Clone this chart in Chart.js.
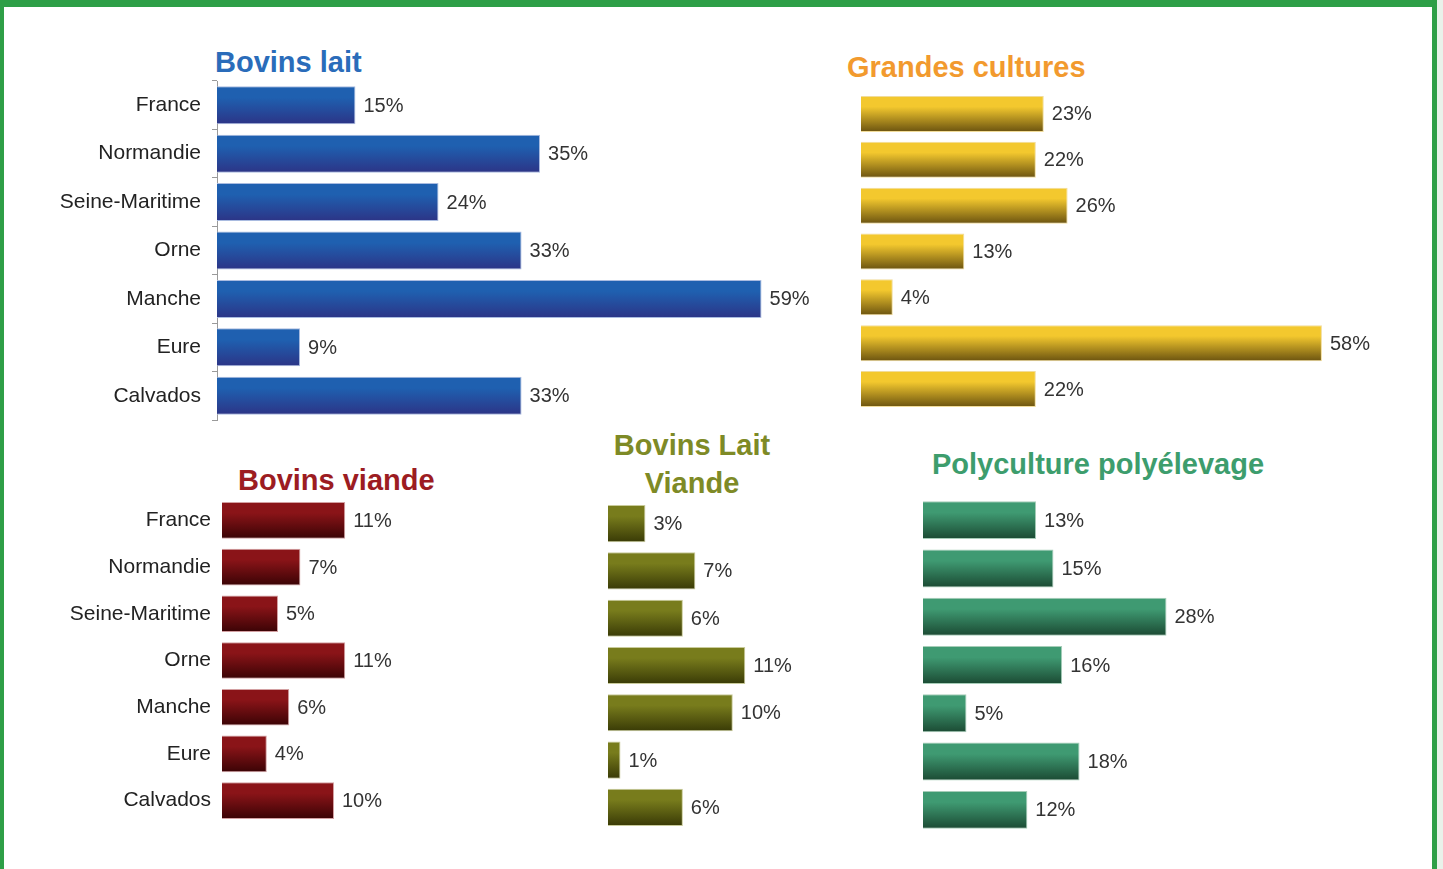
<!DOCTYPE html>
<html><head><meta charset="utf-8">
<script src="https://cdn.jsdelivr.net/npm/chart.js@4.4.1/dist/chart.umd.min.js"></script>
<style>
html,body{margin:0;padding:0;}
body{width:1443px;height:869px;background:#e9f2ea;position:relative;overflow:hidden;font-family:"Liberation Sans",Arial,Helvetica,sans-serif;}
#frame{position:absolute;left:0;top:0;width:1428px;height:862px;background:#fff;border-top:7px solid #2e9f47;border-left:4px solid #2e9f47;border-right:5px solid #2e9f47;}
canvas{position:absolute;}
.title{position:absolute;font-weight:bold;font-size:29px;line-height:29px;white-space:nowrap;}
</style></head>
<body>
<div id="frame"></div>
<div class="title" style="left:215px;top:48px;color:#2a6cba;">Bovins lait</div>
<div class="title" style="left:847px;top:53px;color:#f29a2e;">Grandes cultures</div>
<div class="title" style="left:238px;top:466px;color:#9c1c22;">Bovins viande</div>
<div class="title" style="left:592px;width:200px;top:426px;line-height:38px;text-align:center;white-space:normal;color:#7e8a26;">Bovins Lait<br>Viande</div>
<div class="title" style="left:932px;top:450px;color:#3d9d6d;">Polyculture polyélevage</div>

<canvas id="c1" width="840" height="383" style="left:0;top:59px;"></canvas>
<canvas id="c2" width="569" height="321" style="left:861px;top:91px;"></canvas>
<canvas id="c3" width="600" height="371" style="left:0;top:475px;"></canvas>
<canvas id="c4" width="292" height="331" style="left:608px;top:500px;"></canvas>
<canvas id="c5" width="507" height="338" style="left:923px;top:496px;"></canvas>

<script>
const regions = ['France','Normandie','Seine-Maritime','Orne','Manche','Eure','Calvados'];
const bovinsLait = [15,35,24,33,59,9,33];
const grandesCultures = [23,22,26,13,4,58,22];
const bovinsViande = [11,7,5,11,6,4,10];
const bovinsLaitViande = [3,7,6,11,10,1,6];
const polyculture = [13,15,28,16,5,18,12];

const FONT = '"Liberation Sans", Arial, Helvetica, sans-serif';
const BAR_PCT = 0.785;

function gradient(top, bottom) {
  return (c) => {
    const chart = c.chart;
    const ys = chart.scales && chart.scales.y;
    if (c.type !== 'data' || !ys) return top;
    const n = chart.data.labels.length;
    const center = ys.getPixelForValue(c.dataIndex);
    const half = (ys.bottom - ys.top) / n * BAR_PCT / 2;
    if (!isFinite(center) || !isFinite(half) || half <= 0) return top;
    const g = chart.ctx.createLinearGradient(0, center - half, 0, center + half);
    g.addColorStop(0, top);
    g.addColorStop(0.3, top);
    g.addColorStop(1, bottom);
    return g;
  };
}

const valueLabels = {
  id: 'valueLabels',
  afterDatasetsDraw(chart) {
    const ctx = chart.ctx;
    ctx.save();
    ctx.font = '20px ' + FONT;
    ctx.fillStyle = '#333';
    ctx.textBaseline = 'middle';
    ctx.textAlign = 'left';
    const vals = chart.data.datasets[0].data;
    chart.getDatasetMeta(0).data.forEach((bar, i) => {
      ctx.fillText(vals[i] + '%', bar.x + 8, bar.y + 1);
    });
    ctx.restore();
  }
};

function makeChart(id, values, o) {
  const yScale = o.labels ? {
    display: true,
    afterFit(s) { s.width = o.yWidth; },
    grid: { display: !!o.axis, offset: true, drawOnChartArea: false, drawTicks: !!o.axis, tickLength: 5, color: '#9a9a9a' },
    border: { display: !!o.axis, color: '#9a9a9a' },
    ticks: { color: '#222', padding: 11, font: { family: FONT, size: 21, lineHeight: '22px' } }
  } : { display: false };
  new Chart(document.getElementById(id), {
    type: 'bar',
    data: {
      labels: regions,
      datasets: [{
        data: values,
        backgroundColor: gradient(o.top, o.bottom),
        borderColor: o.edge,
        borderWidth: 1,
        categoryPercentage: BAR_PCT,
        barPercentage: 1
      }]
    },
    options: {
      indexAxis: 'y',
      responsive: false,
      animation: false,
      layout: { padding: 0 },
      plugins: { legend: { display: false }, tooltip: { enabled: false }, title: { display: false } },
      scales: {
        x: { display: false, min: 0, max: o.xMax },
        y: yScale
      }
    },
    plugins: [valueLabels]
  });
}

makeChart('c1', bovinsLait, { labels: true, axis: true, yWidth: 217, xMax: 67.5,
  top: '#1f60b0', bottom: '#2c3486', edge: '#a9bbe0' });
makeChart('c2', grandesCultures, { labels: false, xMax: 71.6,
  top: '#f3c82e', bottom: '#6b5310', edge: '#f1dc9a' });
makeChart('c3', bovinsViande, { labels: true, axis: false, yWidth: 222, xMax: 33.75,
  top: '#8a1418', bottom: '#3a0305', edge: '#d3a0a2' });
makeChart('c4', bovinsLaitViande, { labels: false, xMax: 23.4,
  top: '#787c1c', bottom: '#393a06', edge: '#c9cb9a' });
makeChart('c5', polyculture, { labels: false, xMax: 58.3,
  top: '#3f9a72', bottom: '#1b4a33', edge: '#a6cdb8' });
</script>
</body></html>
